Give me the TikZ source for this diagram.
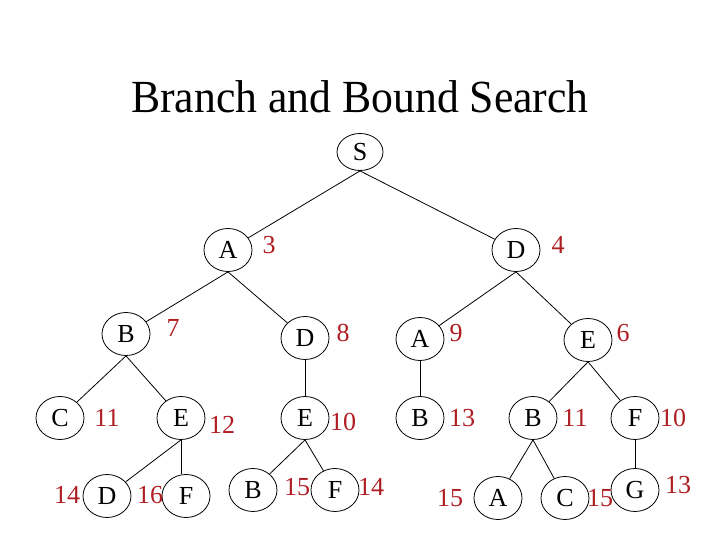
\documentclass[tikz,border=0pt]{standalone}
\usepackage{fontspec}
\setmainfont{Liberation Serif}
\usetikzlibrary{shapes.geometric}
\definecolor{numred}{RGB}{175,30,35}
\tikzset{
  st/.style={draw=black, line width=0.8pt, ellipse, inner sep=0pt, minimum width=48pt, minimum height=43pt, font=\fontsize{26}{28}\selectfont, text=black},
  num/.style={inner sep=0pt, text=numred, font=\fontsize{26}{28}\selectfont},
  edge/.style={draw=black, line width=0.8pt},
  ttl/.style={inner sep=0pt, font=\fontsize{46}{50}\selectfont, xscale=0.95, transform shape}
}
\begin{document}
\begin{tikzpicture}[x=1pt,y=-1pt]
\useasboundingbox (0,0) rectangle (720,540);
\node[ttl] (title) at (360,97) {Branch and Bound Search};
% nodes
\node[st, minimum width=46pt, minimum height=37pt] (S) at (360,152) {S};
\node[st] (A1) at (228,250) {A};
\node[st] (D1) at (516,250) {D};
\node[st] (B2) at (126,334) {B};
\node[st] (D2) at (305,338) {D};
\node[st] (A2) at (420,339) {A};
\node[st] (E2) at (588,340) {E};
\node[st] (C3) at (60,418) {C};
\node[st] (E3a) at (181,418) {E};
\node[st] (E3b) at (305,418) {E};
\node[st] (B3a) at (420,418) {B};
\node[st] (B3b) at (533,418) {B};
\node[st] (F3) at (635,418) {F};
\node[st] (D4) at (107,496) {D};
\node[st] (F4a) at (186,496) {F};
\node[st] (B4) at (253,490) {B};
\node[st] (F4b) at (335,490) {F};
\node[st] (A4) at (498,498) {A};
\node[st] (C4) at (565,498) {C};
\node[st] (G4) at (635,490) {G};
% numbers
\node[num] (n3) at (269,245) {3};
\node[num] (n4) at (558,245) {4};
\node[num] (n7) at (173,328) {7};
\node[num] (n8) at (343,333) {8};
\node[num] (n9) at (456,333) {9};
\node[num] (n6) at (623,333) {6};
\node[num] (n11a) at (107,418) {11};
\node[num] (n12) at (222,425) {12};
\node[num] (n10a) at (343,422) {10};
\node[num] (n13a) at (462,418) {13};
\node[num] (n11b) at (575,418) {11};
\node[num] (n10b) at (673,418) {10};
\node[num] (n14a) at (67,495) {14};
\node[num] (n16) at (150,495) {16};
\node[num] (n15a) at (297,487) {15};
\node[num] (n14b) at (371,487) {14};
\node[num] (n15b) at (450,498) {15};
\node[num] (n15c) at (600,498) {15};
\node[num] (n13b) at (678,485) {13};
% edges
\draw[edge] (S.south) -- (A1);
\draw[edge] (S.south) -- (D1);
\draw[edge] (A1.south) -- (B2);
\draw[edge] (A1.south) -- (D2);
\draw[edge] (D1.south) -- (A2);
\draw[edge] (D1.south) -- (E2);
\draw[edge] (B2.south) -- (C3);
\draw[edge] (B2.south) -- (E3a);
\draw[edge] (D2.south) -- (E3b.north);
\draw[edge] (A2.south) -- (B3a.north);
\draw[edge] (E2.south) -- (B3b);
\draw[edge] (E2.south) -- (F3);
\draw[edge] (E3a.south) -- (D4);
\draw[edge] (E3a.south) -- (F4a.north -| E3a.south);
\draw[edge] (E3b.south) -- (B4);
\draw[edge] (E3b.south) -- (F4b);
\draw[edge] (B3b.south) -- (A4);
\draw[edge] (B3b.south) -- (C4);
\draw[edge] (F3.south) -- (G4.north);
\end{tikzpicture}
\end{document}
